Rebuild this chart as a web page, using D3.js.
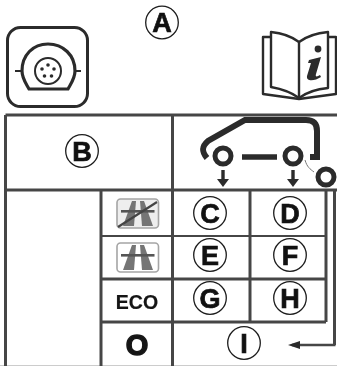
<!DOCTYPE html>
<html><head><meta charset="utf-8">
<style>html,body{margin:0;padding:0;background:#fff;overflow:hidden}svg{display:block;filter:blur(.35px)}</style>
<script src="https://cdn.jsdelivr.net/npm/d3@7"></script></head>
<body><script>
const columns = ["c0","c1","c2","c3","c4","c5","c6"];
const rows = ["r0","r1","r2","r3","r4","r5","r6"];
const gridLines = [
  ["c0","c6","r0","r0",3],["c0","c6","r1","r1",3],
  ["c0","c0","r0","r6",3],["c2","c2","r0","r6",3],["c1","c1","r1","r6",3],
  ["c3","c3","r1","r4",3],["c4","c4","r1","r4",3],["c5","c5","r1","r5",3],
  ["c1","c4","r2","r2",2],["c1","c4","r3","r3",3],["c1","c4","r4","r4",3]
];
const circleLabels = ["A","B","C","D","E","F","G","H","I"];
const circleX = [162,82,210,290,210,290,210,290,244];
const circleY = [22.5,151,213,213,255,255,298,298,343];
const modeLabels = ["ECO","O"];
const modeY = [302,344.5];

const W=337,H=366;
const x=d3.scaleOrdinal().domain(columns).range([5.5,101,172.5,250,326,334.5,337]);
const y=d3.scaleOrdinal().domain(rows).range([115,190,236,279,322,345,366]);
const svg=d3.select("body").append("svg").attr("width",W).attr("height",H);
const ink="#2b2b2b", rule="#464646";

svg.append("line").attr("x1",0).attr("x2",W).attr("y1",365.5).attr("y2",365.5).attr("stroke","#ccc");
svg.selectAll(".g").data(gridLines).join("line")
  .attr("x1",d=>x(d[0])).attr("x2",d=>x(d[1])).attr("y1",d=>y(d[2])).attr("y2",d=>y(d[3]))
  .attr("stroke",rule).attr("stroke-width",d=>d[4]);
svg.append("line").attr("x1",292).attr("x2",x("c5")+1).attr("y1",y("r5")).attr("y2",y("r5")).attr("stroke",rule).attr("stroke-width",2.5);
svg.append("path").attr("d","M288 345L300 341V349Z").attr("fill",ink);

// socket icon
const s=svg.append("g").attr("fill","none").attr("stroke",ink);
s.append("rect").attr("x",7.5).attr("y",27.5).attr("width",80).attr("height",79).attr("rx",13).attr("stroke-width",3);
s.append("path").attr("stroke-width",3.2).attr("d","M22 71C22 55 33 44 48 44C63 44 75 55 75 71C75 78 72 82 68 89H29C25 82 22 78 22 71Z");
s.append("path").attr("stroke-width",2).attr("d","M15 71H22M75 71H81");
s.append("circle").attr("cx",48).attr("cy",71).attr("r",13).attr("stroke-width",2);
const pins=[[48,65],[42,69],[54,69],[44.5,76],[51.5,76]];
s.selectAll(".pin").data(pins).join("circle").attr("cx",d=>d[0]).attr("cy",d=>d[1]).attr("r",1.8).attr("fill",ink).attr("stroke","none");

// book icon
const b=svg.append("g").attr("fill","none").attr("stroke",ink).attr("stroke-width",2.4).attr("stroke-linejoin","round");
b.append("path").attr("d","M271 37H263V94L299 99L336 94V37H328");
b.append("path").attr("fill","#fff").attr("d","M271 32C282 33 291 36 299 42C307 36 317 33 328 32V88C317 89 307 92 299 98C291 92 282 89 271 87Z");
b.append("path").attr("d","M299 42V98");
b.append("circle").attr("cx",318).attr("cy",49).attr("r",3.4).attr("fill",ink).attr("stroke","none");
b.append("path").attr("fill",ink).attr("stroke","none").attr("d","M309 60L321 57L316 74C315 77 317 77 320 75L321 77C315 81 306 82 307 76L311 63L308 63Z");

// car
const c=svg.append("g").attr("fill","none").attr("stroke",ink);
c.append("path").attr("stroke-width",6).attr("d","M207 158C202 152 201 147 208 141L245 120H306C314 120 317 124 317 131V157H310");
c.append("path").attr("stroke-width",5.5).attr("d","M242 157H277");
c.selectAll(".w").data([[223,156],[293,156],[326,177]]).join("circle")
  .attr("cx",d=>d[0]).attr("cy",d=>d[1]).attr("r",8).attr("stroke-width",5);
c.append("path").attr("stroke-width",1).attr("stroke","#777").attr("d","M305 160C307 167 310 169 314 172");
[223,293].forEach(ax=>{
  c.append("path").attr("stroke-width",3.4).attr("d",`M${ax} 170V180`);
  c.append("path").attr("fill",ink).attr("stroke","none").attr("d",`M${ax-6} 179H${ax+6}L${ax} 187Z`);
});

// motorway icons
function motorway(top,crossed){
  const g=svg.append("g");
  g.append("rect").attr("x",117).attr("y",top).attr("width",41.5).attr("height",29).attr("rx",3.5)
    .attr("fill",crossed?"#eee":"#fff").attr("stroke","#a5a5a5").attr("stroke-width",1.6);
  g.append("path").attr("fill","#757575").attr("d",`M132 ${top+2}H136L134 ${top+27}H123Z`);
  g.append("path").attr("fill","#757575").attr("d",`M140 ${top+2}H144L153 ${top+27}H142Z`);
  g.append("rect").attr("x",121).attr("y",top+11).attr("width",33.5).attr("height",2.6).attr("fill","#555");
  if(crossed) g.append("path").attr("d",`M118 ${top+28}L157 ${top+3}`).attr("stroke","#444").attr("stroke-width",2.2);
}
motorway(199,true);motorway(243,false);

// mode labels
svg.selectAll(".mode").data(modeLabels).join("text")
  .attr("x",137).attr("y",(d,i)=>modeY[i]).attr("text-anchor","middle").attr("dominant-baseline","central")
  .attr("font-family","Liberation Sans").attr("font-weight","bold").attr("fill","#151515")
  .attr("font-size",(d,i)=>i?29:19.5).attr("stroke","#151515").attr("stroke-width",(d,i)=>i?1.4:0.2).text(d=>d);

// circled letters
const lg=svg.selectAll(".lab").data(circleLabels).join("g").attr("transform",(d,i)=>`translate(${circleX[i]},${circleY[i]})`);
lg.append("circle").attr("r",16.3).attr("fill","#fff").attr("stroke","#1c1c1c").attr("stroke-width",1.3);
lg.append("text").attr("text-anchor","middle").attr("y",9.7).attr("font-family","Liberation Sans")
  .attr("font-weight","bold").attr("font-size",27).attr("fill","#111").attr("stroke","#111").attr("stroke-width",.7).text(d=>d);
</script></body></html>
